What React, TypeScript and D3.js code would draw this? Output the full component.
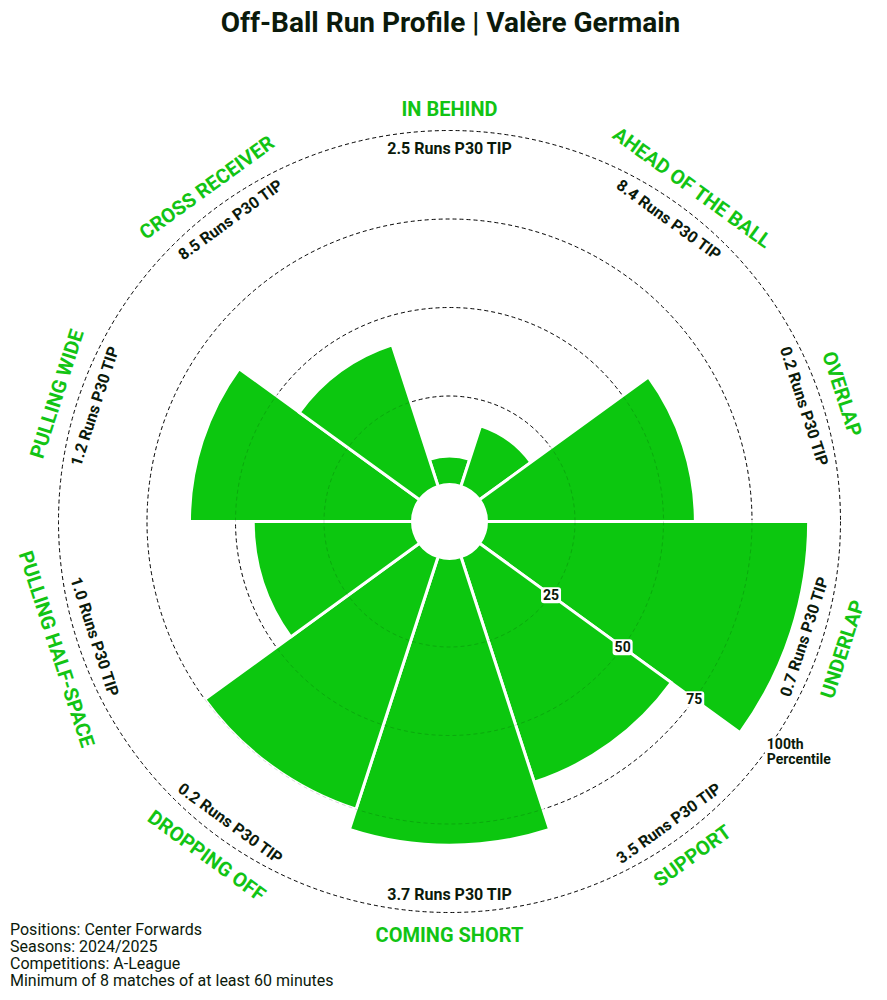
import React from 'react';
import * as d3 from 'd3';

const categories = [
  'IN BEHIND',
  'AHEAD OF THE BALL',
  'OVERLAP',
  'UNDERLAP',
  'SUPPORT',
  'COMING SHORT',
  'DROPPING OFF',
  'PULLING HALF-SPACE',
  'PULLING WIDE',
  'CROSS RECEIVER',
];
const percentiles = [8, 18, 59, 91, 67, 81, 75, 45, 63, 42];
const runsP30 = [2.5, 8.4, 0.2, 0.7, 3.5, 3.7, 0.2, 1.0, 1.2, 8.5];
const gridTicks = [25, 50, 75, 100];
const footerLines = [
  'Positions: Center Forwards',
  'Seasons: 2024/2025',
  'Competitions: A-League',
  'Minimum of 8 matches of at least 60 minutes',
];

const WIDTH = 887;
const HEIGHT = 1000;
const CX = 449.5;
const CY = 521.5;
const INNER = 37;
const OUTER = 391;
const GREEN = '#0cc70f';
const LABEL_GREEN = '#12c414';
const DARK = '#0b1a0b';
const FONT = 'Roboto, sans-serif';

export default function App() {
  const r = d3.scaleLinear().domain([0, 100]).range([INNER, OUTER]);
  const step = (2 * Math.PI) / categories.length;

  const arc = d3.arc<number>()
    .innerRadius(INNER)
    .outerRadius((d) => r(d))
    .startAngle((_, i) => i * step - step / 2)
    .endAngle((_, i) => i * step + step / 2);

  // polar -> cartesian, angle clockwise from top
  const pos = (a: number, rad: number) => [rad * Math.sin(a), -rad * Math.cos(a)];
  const textRot = (a: number) => {
    const deg = (a * 180) / Math.PI;
    if (deg > 90 && deg < 270) return deg - 180;
    return deg > 270 ? deg - 360 : deg;
  };

  const tickAngle = 3.5 * step;

  return (
    <div style={{ position: 'absolute', left: 0, top: 0 }}>
      <svg width={WIDTH} height={HEIGHT} style={{ display: 'block', background: '#fff' }}>
        <text x={450.5} y={32} textAnchor="middle" fontFamily={FONT} fontWeight="bold" fontSize={28} fill={DARK}>
          Off-Ball Run Profile | Valère Germain
        </text>

        <g transform={`translate(${CX},${CY})`}>
          {gridTicks.map((t) => (
            <circle key={`g${t}`} r={r(t)} fill="none" stroke="#111" strokeWidth={1} strokeDasharray="4,3" />
          ))}

          {percentiles.map((p, i) => (
            <path key={categories[i]} d={arc(p, i) || ''} fill={GREEN} stroke="#fff" strokeWidth={3} strokeLinejoin="miter" />
          ))}

          {gridTicks.map((t) => (
            <circle key={`go${t}`} r={r(t)} fill="none" stroke="#000" strokeOpacity={0.15} strokeWidth={1} strokeDasharray="4,3" />
          ))}

          {gridTicks.slice(0, 3).map((t) => {
            const [x, y] = pos(tickAngle, r(t));
            return (
              <g key={`t${t}`} transform={`translate(${x},${y})`}>
                <rect x={-10} y={-8} width={20} height={16} rx={3} fill="#fff" />
                <text textAnchor="middle" dominantBaseline="central" fontFamily={FONT} fontWeight="bold" fontSize={14} fill={DARK}>
                  {t}
                </text>
              </g>
            );
          })}

          {(() => {
            const [x, y] = pos(tickAngle, r(100));
            return (
              <g transform={`translate(${x},${y})`}>
                <rect x={-1} y={-15} width={70} height={31} fill="#fff" />
                <text fontFamily={FONT} fontWeight="bold" fontSize={14} fill={DARK}>
                  <tspan x={1} y={-2}>100th</tspan>
                  <tspan x={1} y={13}>Percentile</tspan>
                </text>
              </g>
            );
          })()}

          {categories.map((c, i) => {
            const a = i * step;
            const [vx, vy] = pos(a, 373);
            const [lx, ly] = pos(a, 413);
            const rot = textRot(a);
            return (
              <g key={`l${c}`}>
                <text
                  transform={`translate(${vx},${vy}) rotate(${rot})`}
                  textAnchor="middle"
                  dominantBaseline="central"
                  fontFamily={FONT}
                  fontWeight="bold"
                  fontSize={16}
                  fill={DARK}
                >
                  {`${runsP30[i].toFixed(1)} Runs P30 TIP`}
                </text>
                <text
                  transform={`translate(${lx},${ly}) rotate(${rot})`}
                  textAnchor="middle"
                  dominantBaseline="central"
                  fontFamily={FONT}
                  fontWeight="bold"
                  fontSize={20}
                  fill={LABEL_GREEN}
                >
                  {c}
                </text>
              </g>
            );
          })}
        </g>

        <text fontFamily={FONT} fontSize={16} fill={DARK}>
          {footerLines.map((l, i) => (
            <tspan key={l} x={10} y={935 + i * 17}>
              {l}
            </tspan>
          ))}
        </text>
      </svg>
    </div>
  );
}
